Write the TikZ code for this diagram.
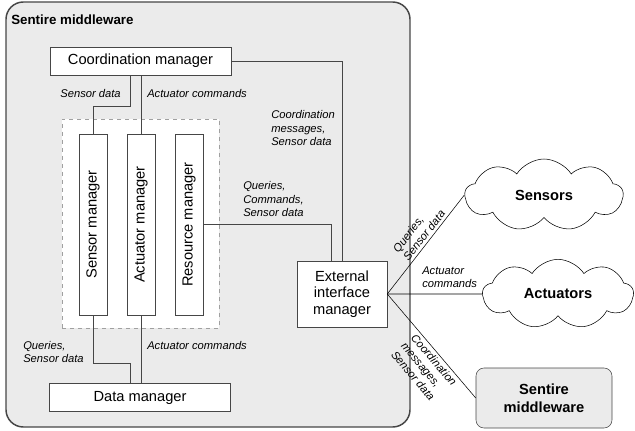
\documentclass[tikz,border=0pt]{standalone}
\usepackage{fontspec}
\setmainfont{Liberation Sans}
\usepackage{graphicx}
\usepackage{xcolor}
\usetikzlibrary{shapes,arrows,positioning,calc}

\definecolor{mwfill}{RGB}{235,235,235}
\definecolor{mwline}{RGB}{70,70,70}
\definecolor{grpline}{RGB}{160,160,160}

\begin{document}
\begin{tikzpicture}[
            x=0.75pt, y=-0.75pt,
            box/.style={draw=mwline, rectangle, fill=white, inner sep=0pt, font=\fontsize{11}{12.5}\selectfont},
            hbox/.style={box, minimum width=135.5pt, minimum height=21pt},
            vbox/.style={box, minimum width=21pt, minimum height=135.75pt},
            lbl/.style={font=\fontsize{8.4}{9.8}\selectfont\itshape, align=left, inner sep=0pt},
            cloudbox/.style={cloud, cloud puffs=9, cloud puff arc=115, aspect=2.2, draw=black, fill=white, inner sep=0pt, font=\fontsize{11}{13}\selectfont\bfseries},
            link/.style={draw=mwline}
        ]
            \useasboundingbox (0,0) rectangle (635,431);

            % middleware container and its parts
            \node[draw=mwline, line width=1.1pt, fill=mwfill, rounded corners=13pt, minimum width=303pt, minimum height=318.75pt] (mw) at (208,214.5) {};
            \node[font=\fontsize{10}{12}\selectfont\bfseries, inner sep=0pt, anchor=west] (mwtitle) at (11,20) {Sentire middleware};

            \node[draw=grpline, dashed, fill=white, minimum width=117.75pt, minimum height=156.75pt] (group) at (140.5,223.5) {};

            \node[hbox] (coord) at (140.5,61) {Coordination manager};
            \node[vbox] (sensor) at (93,224.5) {\rotatebox{90}{Sensor manager}};
            \node[vbox, right=14.6pt of sensor] (act) {\rotatebox{90}{Actuator manager}};
            \node[vbox, right=14.6pt of act] (res) {\rotatebox{90}{Resource manager}};
            \node[hbox] (data) at (140,397.5) {Data manager};
            \node[box, align=center, minimum width=67.5pt, minimum height=49.5pt] (ext) at (342,294) {External\\interface\\manager};

            % outside world
            \node[cloudbox, minimum width=118.5pt, minimum height=54pt] (sensors) at (544,195) {Sensors};
            \node[cloudbox, minimum width=113pt, minimum height=52pt] (actuators) at (558,294) {Actuators};
            \node[draw=mwline, fill=mwfill, rounded corners=6pt, align=center, minimum width=102pt, minimum height=45pt, font=\fontsize{11}{13.5}\selectfont\bfseries] (remote) at (544,398) {Sentire\\middleware};

            % internal connections
            \draw[link] (coord.east) -| (ext.north);
            \draw[link] (res.east) -| ([xshift=-8.25pt]ext.north);
            \draw[link] ([xshift=-7.9pt]coord.south) -- ++(0,31) -| (sensor.north);
            \draw[link] (act.north |- coord.south) -- (act.north);
            \draw[link] (sensor.south) -- ++(0,48) -| ([xshift=-7.5pt]data.north);
            \draw[link] (act.south) -- (act.south |- data.north);

            \node[lbl, anchor=east] (lsens) at (121,94) {Sensor data};
            \node[lbl, anchor=west] (lact) at (147,94) {Actuator commands};
            \node[lbl, anchor=west] (lcoord) at (271,128) {Coordination\\messages,\\Sensor data};
            \node[lbl, anchor=west] (lres) at (243,199) {Queries,\\Commands,\\Sensor data};
            \node[lbl, anchor=west] (lquery) at (23,352) {Queries,\\Sensor data};
            \node[lbl, anchor=west] (lactdata) at (147,345) {Actuator commands};

            % external connections
            \draw (ext.east) -- node[lbl, sloped, above=2pt, pos=0.55] (lsensors) {Queries,\\Sensor data} (sensors.west);
            \draw (ext.east) -- (actuators.west);
            \node[lbl, anchor=west] (lactuators) at (422,277) {Actuator\\commands};
            \draw (ext.east) -- node[lbl, sloped, below=2pt, pos=0.59] (lremote) {Coordination\\messages,\\Sensor data} (remote.west);
        \end{tikzpicture}
\end{document}
